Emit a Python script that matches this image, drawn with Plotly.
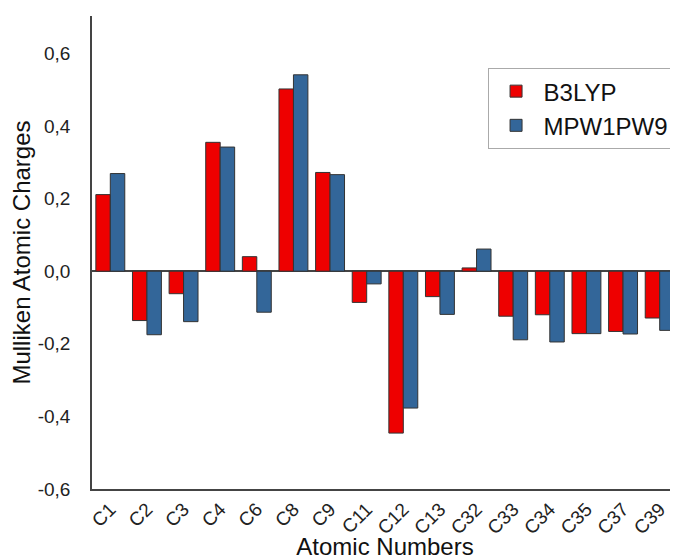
import plotly.graph_objects as go

categories = ["C1", "C2", "C3", "C4", "C6", "C8", "C9", "C11", "C12", "C13",
              "C32", "C33", "C34", "C35", "C37", "C39"]
b3lyp = [0.211, -0.136, -0.062, 0.355, 0.040, 0.502, 0.272, -0.086, -0.446, -0.070,
         0.009, -0.124, -0.120, -0.172, -0.166, -0.129]
mpw1pw9 = [0.269, -0.175, -0.139, 0.342, -0.113, 0.541, 0.266, -0.035, -0.377, -0.119,
           0.061, -0.189, -0.195, -0.172, -0.173, -0.163]
y_tickvals = [-0.6, -0.4, -0.2, 0.0, 0.2, 0.4, 0.6]
y_ticktext = ["-0,6", "-0,4", "-0,2", "0,0", "0,2", "0,4", "0,6"]

FONT = "Liberation Sans, Arial, sans-serif"

fig = go.Figure()
fig.add_trace(go.Bar(x=categories, y=b3lyp, name="B3LYP",
                     marker=dict(color="#EE0000", line=dict(color="#333333", width=1))))
fig.add_trace(go.Bar(x=categories, y=mpw1pw9, name="MPW1PW9",
                     marker=dict(color="#336699", line=dict(color="#333333", width=1))))

# the page body has an 8 px margin, so the figure is offset by 8 px
fig.update_layout(
    width=670, height=552,
    margin=dict(l=84, r=0, t=8, b=71),
    paper_bgcolor="white", plot_bgcolor="white",
    barmode="group", bargap=0.21, bargroupgap=0,
    font=dict(family=FONT, color="#111111"),
    showlegend=True,
    legend=dict(x=0.675, y=0.89, xanchor="left", yanchor="top",
                bordercolor="#AAAAAA", borderwidth=1, bgcolor="white",
                font=dict(size=24, family=FONT, color="#111111"),
                itemwidth=45, tracegroupgap=0),
)
fig.update_xaxes(
    automargin=False,
    showline=True, linecolor="#444444", linewidth=1.5,
    ticks="", tickangle=-45, tickfont=dict(size=19, family=FONT, color="#222222"),
    title=dict(text="Atomic Numbers", font=dict(size=24, family=FONT, color="#111111"), standoff=4),
    showgrid=False, mirror=False,
)
fig.update_yaxes(
    automargin=False,
    range=[-0.6, 0.703],
    showline=True, linecolor="#444444", linewidth=1.5,
    tickvals=y_tickvals, ticktext=y_ticktext, ticks="",
    ticklabelstandoff=16,
    tickfont=dict(size=19, family=FONT, color="#222222"),
    title=dict(text="Mulliken Atomic Charges", font=dict(size=24, family=FONT, color="#111111"), standoff=6),
    showgrid=False, zeroline=True, zerolinecolor="#444444", zerolinewidth=1.5,
)

fig.write_html("out.html")
